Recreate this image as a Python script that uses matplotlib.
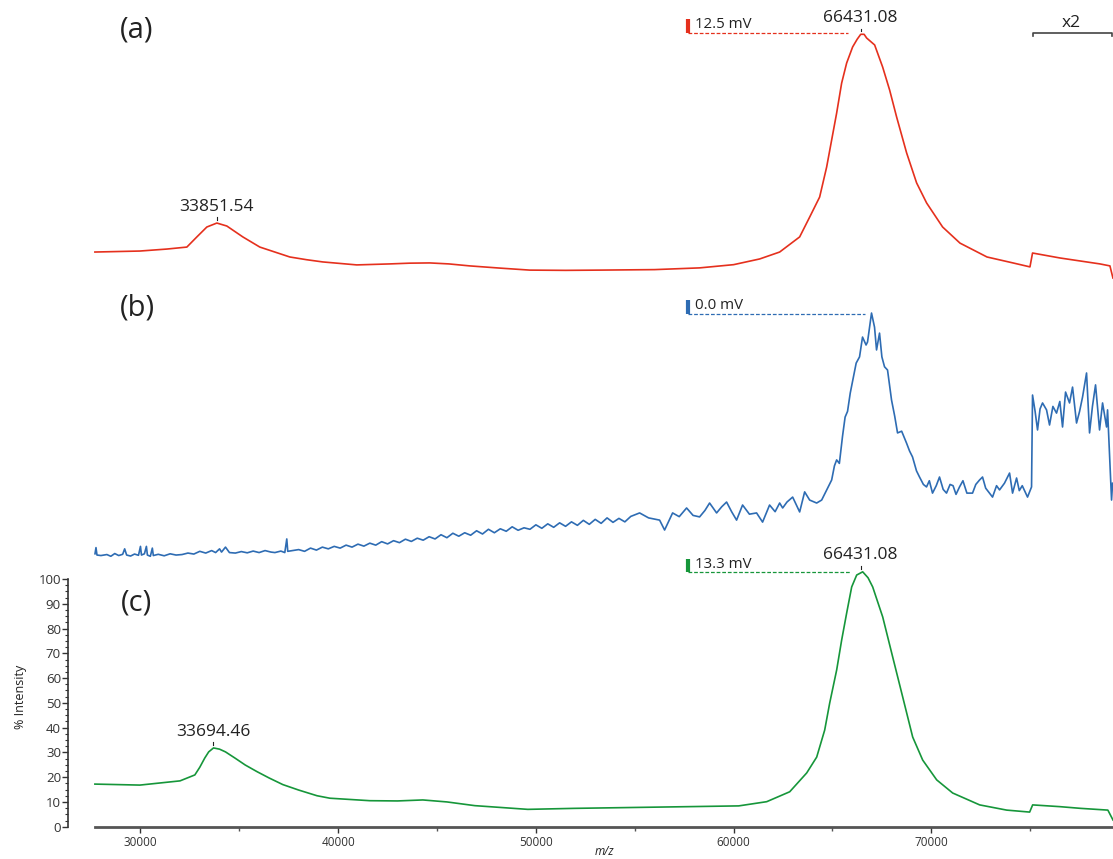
import matplotlib
matplotlib.use("Agg")
import matplotlib.pyplot as plt
from matplotlib.ticker import FixedLocator

plt.rcParams['font.family'] = ['Open Sans', 'DejaVu Sans']

# --- spectrum (a), % relative intensity
mz_a = [27695, 29970, 31335, 32346, 32852, 33357, 33863, 34368, 35177, 36037,
        37554, 38400, 39222, 40941, 42610, 43600, 44632, 45600, 46655, 48200,
        49688, 51500, 53227, 56000, 58283, 60000, 61318,
        62330, 63341, 63847, 64352, 64706, 64959, 65212, 65465, 65718, 66021,
        66250, 66431, 66600, 66729, 67134, 67538, 67892, 68246, 68752, 69257, 69763,
        70572, 71451, 72816, 74130, 74990, 75120, 76507, 78530, 79035, 79187]
int_a = [12.1, 12.5, 13.3, 14.1, 18.2, 22.2, 23.8, 22.6, 18.2, 14.1,
         10.1, 9.0, 8.1, 6.9, 7.3, 7.6, 7.7, 7.3, 6.5, 5.6,
         4.8, 4.7, 4.8, 5.0, 5.7, 7.0, 9.3,
         12.1, 18.2, 26.2, 34.3, 46.4, 57.3, 68.2, 80.3, 88.4, 94.9,
         98.0, 100.0, 100.0, 98.5, 95.7, 86.8, 77.5, 66.6, 52.1, 40.0, 31.9,
         22.2, 15.7, 10.1, 7.7, 6.1, 11.7, 9.7, 7.3, 6.5, 1.6]

# --- spectrum (b), noisy trace
mz_b = [27700, 27750, 27800, 28000, 28300, 28500, 28700, 28900, 29100, 29200,
        29300, 29500, 29700, 29900, 30000, 30050, 30200, 30300, 30350, 30500,
        30600, 30650, 30900, 31200, 31500, 31800, 32100, 32400, 32700, 33000,
        33300, 33600, 33800, 34000, 34100, 34300, 34500, 34800, 35100, 35400,
        35700, 36000, 36300, 36600, 36800, 37100, 37300, 37400, 37450, 37700,
        38000, 38300, 38600, 38900, 39200, 39500, 39800, 40100, 40400, 40700,
        41000, 41300, 41600, 41900, 42200, 42500, 42800, 43100, 43400, 43700,
        44000, 44300, 44600, 44900, 45200, 45500, 45800, 46100, 46400, 46700,
        47000, 47300, 47600, 47900, 48200, 48500, 48800, 49100, 49400, 49700,
        50000, 50300, 50600, 50900, 51200, 51500, 51800, 52100, 52400, 52700,
        53000, 53300, 53600, 53900, 54200, 54500, 54800, 55246, 55700, 56258,
        56510, 56915, 57250, 57623, 57950, 58280, 58550, 58786, 59140, 59400,
        59645, 59900, 60151, 60454, 60800, 61162, 61466, 61820, 62100, 62330,
        62482, 62700, 62987, 63341, 63594, 63847, 64201, 64454, 64707, 64960,
        65100, 65212, 65350, 65510, 65640, 65763, 65900, 66016, 66200, 66370,
        66521, 66700, 66774, 66976, 67128, 67230, 67381, 67500, 67634, 67786,
        67988, 68150, 68292, 68500, 68747, 68900, 69050, 69250, 69404, 69600,
        69758, 69900, 70061, 70250, 70415, 70600, 70769, 70950, 71100, 71250,
        71427, 71600, 71800, 72085, 72250, 72440, 72591, 72750, 72946, 73097,
        73300, 73452, 73700, 73958, 74110, 74313, 74450, 74600, 74867, 75070,
        75120, 75250, 75373, 75500, 75626, 75829, 75980, 76150, 76334, 76500,
        76638, 76790, 76992, 77144, 77346, 77500, 77650, 77852, 78004, 78150,
        78307, 78510, 78662, 78864, 78915, 79117, 79168]
int_b = [2.5, 5.0, 2.0, 1.8, 2.2, 1.5, 2.6, 1.8, 2.3, 4.5,
         2.0, 1.6, 2.4, 1.9, 5.5, 2.0, 2.5, 5.5, 2.0, 1.5,
         4.8, 1.8, 2.3, 1.7, 2.5, 2.0, 2.2, 2.8, 2.4, 3.5,
         2.8, 3.8, 3.0, 4.5, 3.2, 5.2, 3.0, 2.8, 3.4, 2.9,
         3.6, 3.0, 3.8, 3.2, 3.0, 3.6, 3.0, 8.5, 3.5, 3.8,
         4.2, 3.5, 4.8, 4.0, 5.2, 4.5, 5.5, 4.8, 6.0, 5.2,
         6.4, 5.6, 6.8, 6.0, 7.4, 6.5, 7.8, 7.0, 8.4, 7.5,
         8.8, 8.0, 9.4, 8.5, 10.2, 9.0, 10.8, 9.6, 11.0, 10.0,
         11.8, 10.5, 12.4, 11.0, 12.6, 11.6, 13.4, 12.0, 13.0, 12.4,
         14.2, 12.8, 14.6, 13.2, 15.0, 13.6, 15.4, 14.0, 16.0, 14.4,
         16.4, 14.8, 17.0, 15.2, 16.8, 15.4, 17.6, 19.0, 17.0, 16.1,
         12.1, 19.0, 17.5, 21.0, 18.0, 17.4, 20.0, 23.0, 19.0, 21.5,
         23.4, 19.5, 16.1, 22.2, 18.5, 19.0, 15.3, 22.2, 19.5, 23.0,
         21.0, 23.4, 25.4, 19.4, 27.5, 24.2, 23.0, 24.2, 28.3, 32.3,
         38.0, 40.4, 39.0, 50.0, 57.7, 60.0, 67.4, 72.0, 79.5, 82.0,
         90.0, 86.8, 88.0, 99.7, 94.0, 84.8, 91.6, 82.0, 78.0, 76.7,
         64.6, 58.0, 51.3, 52.0, 47.2, 44.0, 41.6, 36.0, 33.5, 30.5,
         29.5, 32.0, 27.0, 30.0, 33.5, 28.5, 27.0, 30.5, 30.0, 26.5,
         29.5, 32.0, 27.0, 27.0, 30.5, 32.3, 33.5, 29.0, 27.0, 25.4,
         30.0, 28.3, 31.0, 35.1, 27.0, 33.1, 28.0, 30.0, 25.4, 29.5,
         66.6, 60.0, 52.5, 61.0, 63.4, 60.6, 54.5, 62.0, 59.3, 64.0,
         53.7, 67.8, 63.4, 69.8, 55.3, 60.0, 65.8, 75.5, 51.3, 62.0,
         70.7, 52.5, 63.4, 53.7, 60.6, 24.2, 31.0]

# --- spectrum (c)
mz_c = [27695, 29970, 32000, 32750, 33000, 33250, 33450, 33694, 34000, 34300,
        34800, 35300, 35900, 36500, 37200, 38000,
        38930, 39580, 41600, 43000, 44280, 45500, 46910, 49590, 51920, 56920, 60260, 61675,
        62838, 63697, 64203, 64607, 64860, 65214, 65467, 65720, 65973, 66226,
        66530, 66800, 67035, 67541, 68047, 68552, 69058, 69564, 70272, 71081, 72446,
        73811, 74974, 75126, 76491, 77560, 78930, 79190]
int_c = [17.2, 16.8, 18.5, 20.9, 24.0, 27.7, 30.2, 31.8, 31.3, 30.2,
         27.6, 24.9, 22.2, 19.7, 17.0, 14.8,
         12.5, 11.5, 10.5, 10.4, 10.8, 10.0, 8.5, 7.0, 7.4, 8.0, 8.4, 10.1,
         14.1, 21.7, 28.1, 39.0, 49.9, 63.3, 75.4, 86.3, 96.8, 101.6,
         102.9, 100.5, 96.8, 84.7, 68.5, 52.4, 36.2, 26.9, 18.9, 13.6, 8.8,
         6.7, 5.9, 8.8, 8.1, 7.4, 6.7, 2.7]

colors = ['#e5301d', '#2e6cb3', '#16963a']
mv_labels = ['12.5 mV', '0.0 mV', '13.3 mV']
mv_levels = [100.5, 99.3, 102.7]
mv_ends = [65770, 66630, 65920]
panel_names = ['(a)', '(b)', '(c)']
peaks = [[(33863, 23.8, '33851.54'), (66431, 100.0, '66431.08')],
         [],
         [(33665, 31.8, '33694.46'), (66431, 102.9, '66431.08')]]

W, H = 1113, 859
fig = plt.figure(figsize=(W / 100, H / 100), dpi=100)

zero_px = [282, 560, 826.7]
scale = 2.477  # px per %
ymax = 105
axes = []
for i, z in enumerate(zero_px):
    ax = fig.add_axes([95 / W, (H - z) / H, (W - 95) / W, ymax * scale / H])
    ax.set_xlim(27700, 79190)
    ax.set_ylim(0, ymax)
    ax.patch.set_alpha(0)
    axes.append(ax)

data = [(mz_a, int_a), (mz_b, int_b), (mz_c, int_c)]
for i, ax in enumerate(axes):
    x, y = data[i]
    ax.plot(x, y, color=colors[i], lw=1.2, clip_on=False)
    # mV marker + dashed reference line
    lvl = mv_levels[i]
    ax.plot([57677, mv_ends[i]], [lvl, lvl], color=colors[i], lw=0.9,
            ls=(0, (3, 1.5)), clip_on=False)
    ax.plot([57677, 57677], [lvl, lvl + 5.5], color=colors[i], lw=3,
            solid_capstyle='butt', clip_on=False)
    ax.text(58050, lvl + 0.3, mv_labels[i], fontsize=10.8, color='#222222',
            ha='left', va='bottom')
    for (pm, pv, lab) in peaks[i]:
        ax.plot([pm, pm], [pv + 1.3, pv + 2.3], color='#222222', lw=0.8,
                clip_on=False)
        ax.annotate(lab, (pm, pv), xytext=(0, 6), textcoords='offset points',
                    ha='center', va='bottom', fontsize=12.5, color='#222222')
    fig.text(137 / W, 1 - (30 + 278 * [0, 1, 2.06][i]) / H, panel_names[i],
             fontsize=21, color='#222222', ha='center', va='center')

# x2 bracket on (a)
ax = axes[0]
ax.plot([75120, 75120, 79150, 79150], [99.3, 100.5, 100.5, 99.3],
        color='#444444', lw=1.2, clip_on=False)
ax.text(77100, 101.5, 'x2', fontsize=12.5, color='#222222', ha='center',
        va='bottom')

for ax in axes[:2]:
    ax.axis('off')

ax = axes[2]
for s in ['top', 'right']:
    ax.spines[s].set_visible(False)
ax.spines['left'].set_position(('outward', 19.5))
ax.spines['left'].set_bounds(0, 100)
ax.spines['left'].set_color('#333333')
ax.spines['left'].set_linewidth(1.2)
ax.spines['bottom'].set_color('#555555')
ax.spines['bottom'].set_linewidth(2)
ax.set_yticks(range(0, 101, 10))
ax.yaxis.set_minor_locator(FixedLocator([v * 2.5 for v in range(41)]))
ax.set_xticks([30000, 40000, 50000, 60000, 70000])
ax.xaxis.set_minor_locator(FixedLocator([35000, 45000, 55000, 65000, 75000]))
ax.tick_params(axis='y', which='major', length=4, width=1, labelsize=9.5,
               colors='#333333', pad=1)
ax.tick_params(axis='y', which='minor', length=2, width=0.8, colors='#333333')
ax.tick_params(axis='x', which='major', length=4, width=1, labelsize=8.5,
               colors='#333333', pad=3)
ax.tick_params(axis='x', which='minor', length=3, width=1, colors='#555555')
ax.set_ylabel('% Intensity', fontsize=9, color='#222222', labelpad=8)
ax.set_xlabel('m/z', fontsize=8.5, style='italic', color='#222222', labelpad=-3)

fig.savefig('out.png', dpi=100)
